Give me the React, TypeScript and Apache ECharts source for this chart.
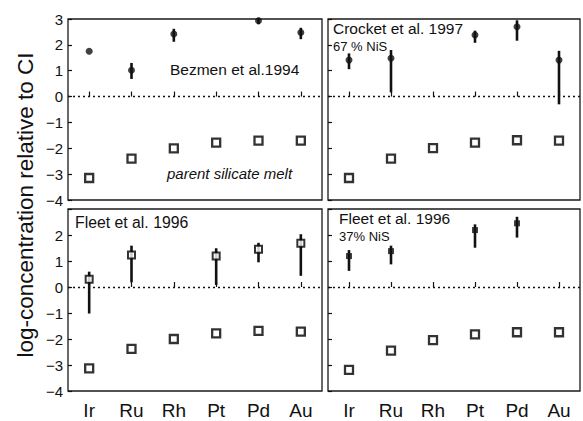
import React, { useEffect, useRef } from "react";
import * as echarts from "echarts";

const elements = ["Ir", "Ru", "Rh", "Pt", "Pd", "Au"];
const yTicks = { min: -4, max: 3, interval: 1 };

// parent silicate melt (open squares), per panel
const meltTL = [-3.15, -2.4, -2.0, -1.78, -1.7, -1.7];
const meltTR = [-3.15, -2.4, -1.99, -1.78, -1.69, -1.7];
const meltBL = [-3.13, -2.38, -2.0, -1.78, -1.69, -1.72];
const meltBR = [-3.19, -2.45, -2.04, -1.82, -1.74, -1.74];

// Bezmen et al. 1994
const bezVal = [1.75, 1.02, 2.42, null, 2.93, 2.48];
const bezLo = [null, 0.68, 2.12, null, 2.8, 2.22];
const bezHi = [null, 1.3, 2.62, null, 3.05, 2.66];

// Crocket et al. 1997, 67 % NiS
const croVal = [1.41, 1.48, null, 2.38, 2.7, 1.41];
const croLo = [1.06, 0.16, null, 2.08, 2.16, -0.3];
const croHi = [1.67, 1.8, null, 2.55, 2.95, 1.77];

// Fleet et al. 1996
const fleVal = [0.3, 1.23, null, 1.19, 1.45, 1.68];
const fleLo = [-1.02, 0.18, null, 0.08, 0.95, 0.43];
const fleHi = [0.59, 1.59, null, 1.49, 1.7, 2.03];

// Fleet et al. 1996, 37% NiS
const fl37Val = [1.19, 1.38, null, 2.19, 2.45, null];
const fl37Lo = [0.62, 0.87, null, 1.51, 1.9, null];
const fl37Hi = [1.42, 1.59, null, 2.41, 2.7, null];

const FONT = "'Liberation Sans', Arial, Helvetica, sans-serif";

function pairs(vals: (number | null)[]) {
  const out: [number, number][] = [];
  vals.forEach((v, i) => {
    if (v !== null) out.push([i, v]);
  });
  return out;
}
function bars(lo: (number | null)[], hi: (number | null)[]) {
  const out: [number, number, number][] = [];
  lo.forEach((l, i) => {
    const h = hi[i];
    if (l !== null && h !== null) out.push([i, l, h]);
  });
  return out;
}

export default function App() {
  const ref = useRef<HTMLDivElement>(null);
  useEffect(() => {
    if (!ref.current) return;
    const chart = echarts.init(ref.current, undefined, { renderer: "svg" });

    const grids = [
      { left: 68, top: 19, width: 254, height: 181 },
      { left: 328, top: 19, width: 252, height: 181 },
      { left: 68, top: 209, width: 254, height: 182 },
      { left: 328, top: 209, width: 252, height: 182 },
    ].map((g) => ({ ...g, show: true, borderColor: "#1a1a1a", borderWidth: 1.3, backgroundColor: "transparent" }));

    const xAxes = grids.map((_, i) => ({
      type: "category",
      gridIndex: i,
      data: elements,
      boundaryGap: true,
      axisLine: { show: false },
      axisTick: { show: true, inside: true, alignWithLabel: true, length: 5, lineStyle: { color: "#111", width: 1.2 } },
      axisLabel: {
        show: i >= 2,
        margin: 10,
        fontFamily: FONT,
        fontSize: 19,
        color: "#111",
      },
      splitLine: { show: false },
    }));

    const yAxes = grids.map((_, i) => ({
      type: "value",
      gridIndex: i,
      min: yTicks.min,
      max: yTicks.max,
      interval: yTicks.interval,
      axisLine: { show: false },
      axisTick: { show: true, inside: true, length: 4, lineStyle: { color: "#111", width: 1.2 } },
      axisLabel: {
        show: i % 2 === 0,
        margin: 5,
        fontFamily: FONT,
        fontSize: 15,
        color: "#111",
        formatter: (v: number) => (i >= 2 && v === 3 ? "" : String(v).replace("-", "\u2212")),
      },
      splitLine: { show: false },
    }));

    const melts = [meltTL, meltTR, meltBL, meltBR];
    const vals = [bezVal, croVal, fleVal, fl37Val];
    const los = [bezLo, croLo, fleLo, fl37Lo];
    const his = [bezHi, croHi, fleHi, fl37Hi];

    const series: any[] = [];
    for (let i = 0; i < 4; i++) {
      series.push({
        type: "scatter",
        xAxisIndex: i,
        yAxisIndex: i,
        data: pairs(melts[i]),
        symbol: "rect",
        symbolSize: 8,
        itemStyle: { color: "#fff", borderColor: "#000", borderWidth: 2.3 },
        markLine: {
          silent: true,
          symbol: "none",
          label: { show: false },
          lineStyle: { color: "#111", type: [2, 3], width: 1.3 },
          data: [{ yAxis: 0 }],
        },
        z: 3,
      });
      series.push({
        type: "custom",
        xAxisIndex: i,
        yAxisIndex: i,
        data: bars(los[i], his[i]),
        encode: { x: 0, y: [1, 2] },
        renderItem: (params: any, api: any) => {
          const x = api.value(0);
          const a = api.coord([x, api.value(1)]);
          const b = api.coord([x, api.value(2)]);
          return {
            type: "line",
            shape: { x1: a[0], y1: a[1], x2: b[0], y2: b[1] },
            style: { stroke: "#111", lineWidth: 2.6 },
          };
        },
        z: 4,
      });
      const markerStyle =
        i === 2
          ? { symbol: "rect", symbolSize: 7, itemStyle: { color: "#fff", borderColor: "#000", borderWidth: 2 } }
          : i === 3
          ? { symbol: "rect", symbolSize: 6, itemStyle: { color: "#111" } }
          : { symbol: "circle", symbolSize: 7, itemStyle: { color: "#111" } };
      series.push({
        type: "scatter",
        xAxisIndex: i,
        yAxisIndex: i,
        data: pairs(vals[i]),
        ...markerStyle,
        z: 5,
      });
    }

    const txt = (x: number, y: number, text: string, size: number, extra: any = {}) => ({
      type: "text",
      x,
      y,
      style: {
        text,
        fontFamily: FONT,
        fontSize: size,
        fill: "#111",
        textAlign: "left",
        textVerticalAlign: "middle",
        ...extra,
      },
      z: 10,
    });

    chart.setOption({
      animation: false,
      backgroundColor: "#fff",
      grid: grids,
      xAxis: xAxes,
      yAxis: yAxes,
      series,
      graphic: [
        {
          type: "text",
          x: 25,
          y: 205,
          rotation: Math.PI / 2,
          style: {
            text: "log-concentration relative to CI",
            fontFamily: FONT,
            fontSize: 22.5,
            fill: "#111",
            textAlign: "center",
            textVerticalAlign: "middle",
          },
        },
        txt(170, 69, "Bezmen et al.1994", 15.5),
        txt(167, 173, "parent silicate melt", 15, { fontStyle: "italic" }),
        txt(333, 28, "Crocket et al. 1997", 15.5),
        txt(333, 46, "67 % NiS", 13),
        txt(75, 222, "Fleet et al. 1996", 15.8),
        txt(339, 218, "Fleet et al. 1996", 15.5),
        txt(339, 236, "37% NiS", 13),
      ],
    });
    return () => chart.dispose();
  }, []);
  return <div ref={ref} style={{ position: "fixed", left: 0, top: 0, width: 583, height: 421 }} />;
}
